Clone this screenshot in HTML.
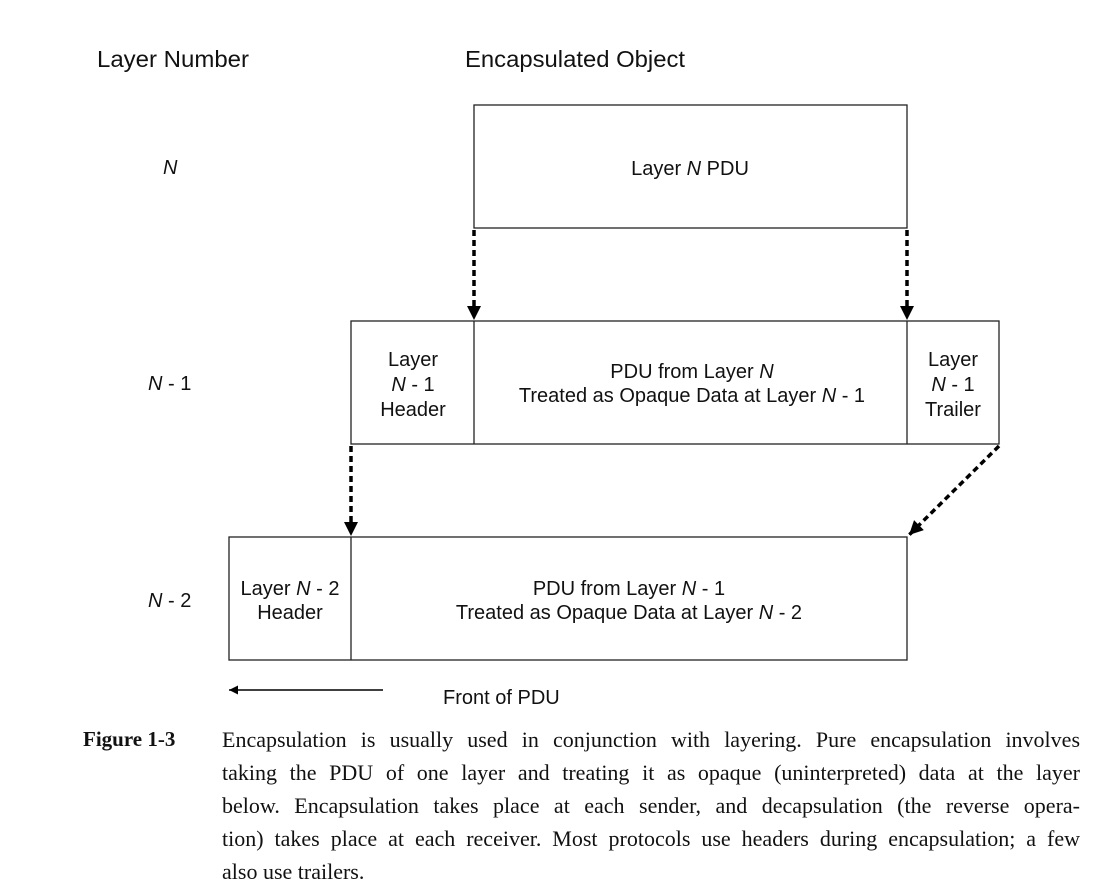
<!DOCTYPE html>
<html><head><meta charset="utf-8"><style>
body{margin:0;background:#fff;width:1106px;height:893px;overflow:hidden;position:relative}
svg{position:absolute;left:0;top:0}
text{font-family:"Liberation Sans",sans-serif;fill:#111}
.cap{position:absolute;font-family:"Liberation Serif",serif;font-size:22px;line-height:33px;color:#111}
.ln{display:block;text-align:justify;text-align-last:justify;white-space:nowrap}
.last{text-align-last:left}
</style></head><body>
<svg width="1106" height="893">
<defs>
<marker id="ah" viewBox="0 0 10 10" refX="10" refY="5" markerWidth="12" markerHeight="9" markerUnits="userSpaceOnUse" orient="auto"><path d="M0,0 L10,5 L0,10 z" fill="#000"/></marker>
<marker id="ah2" viewBox="0 0 10 10" refX="10" refY="5" markerWidth="18" markerHeight="14" markerUnits="userSpaceOnUse" orient="auto"><path d="M0,0 L10,5 L0,10 z" fill="#000"/></marker></defs>
<text x="97" y="67" font-size="23" textLength="152" lengthAdjust="spacingAndGlyphs">Layer Number</text>
<text x="465" y="67" font-size="23" textLength="220" lengthAdjust="spacingAndGlyphs">Encapsulated Object</text>
<text x="163" y="174" font-size="20" font-style="italic">N</text>
<text x="148" y="390" font-size="20"><tspan font-style="italic">N</tspan> - 1</text>
<text x="148" y="607" font-size="20"><tspan font-style="italic">N</tspan> - 2</text>
<g fill="none" stroke="#222" stroke-width="1.3">
<rect x="474" y="105" width="433" height="123"/>
<rect x="351" y="321" width="648" height="123"/>
<line x1="474" y1="321" x2="474" y2="444"/><line x1="907" y1="321" x2="907" y2="444"/>
<rect x="229" y="537" width="678" height="123"/>
<line x1="351" y1="537" x2="351" y2="660"/>
</g>
<text x="690" y="175" font-size="20" text-anchor="middle">Layer <tspan font-style="italic">N</tspan> PDU</text>
<g font-size="20" text-anchor="middle">
<text x="413" y="366">Layer</text><text x="413" y="391"><tspan font-style="italic">N</tspan> - 1</text><text x="413" y="416">Header</text>
<text x="692" y="378">PDU from Layer <tspan font-style="italic">N</tspan></text>
<text x="692" y="402">Treated as Opaque Data at Layer <tspan font-style="italic">N</tspan> - 1</text>
<text x="953" y="366">Layer</text><text x="953" y="391"><tspan font-style="italic">N</tspan> - 1</text><text x="953" y="416">Trailer</text>
<text x="290" y="595">Layer <tspan font-style="italic">N</tspan> - 2</text><text x="290" y="619">Header</text>
<text x="629" y="595">PDU from Layer <tspan font-style="italic">N</tspan> - 1</text>
<text x="629" y="619">Treated as Opaque Data at Layer <tspan font-style="italic">N</tspan> - 2</text>
</g>
<g stroke="#000" stroke-width="3.5" stroke-dasharray="6,4" fill="none">
<line x1="474" y1="230" x2="474" y2="320" marker-end="url(#ah2)"/>
<line x1="907" y1="230" x2="907" y2="320" marker-end="url(#ah2)"/>
<line x1="351" y1="446" x2="351" y2="536" marker-end="url(#ah2)"/>
<line x1="999" y1="446" x2="909" y2="535" marker-end="url(#ah2)"/>
</g>
<line x1="383" y1="690" x2="229" y2="690" stroke="#000" stroke-width="1.5" marker-end="url(#ah)"/>
<text x="443" y="704" font-size="20">Front of PDU</text>
</svg>
<div class="cap" style="left:83px;top:723px;font-weight:bold;font-size:21px">Figure 1-3</div>
<div class="cap" style="left:222px;top:723px;width:858px">
<span class="ln">Encapsulation is usually used in conjunction with layering. Pure encapsulation involves</span>
<span class="ln">taking the PDU of one layer and treating it as opaque (uninterpreted) data at the layer</span>
<span class="ln">below. Encapsulation takes place at each sender, and decapsulation (the reverse opera-</span>
<span class="ln">tion) takes place at each receiver. Most protocols use headers during encapsulation; a few</span>
<span class="ln last">also use trailers.</span>
</div>
</body></html>
